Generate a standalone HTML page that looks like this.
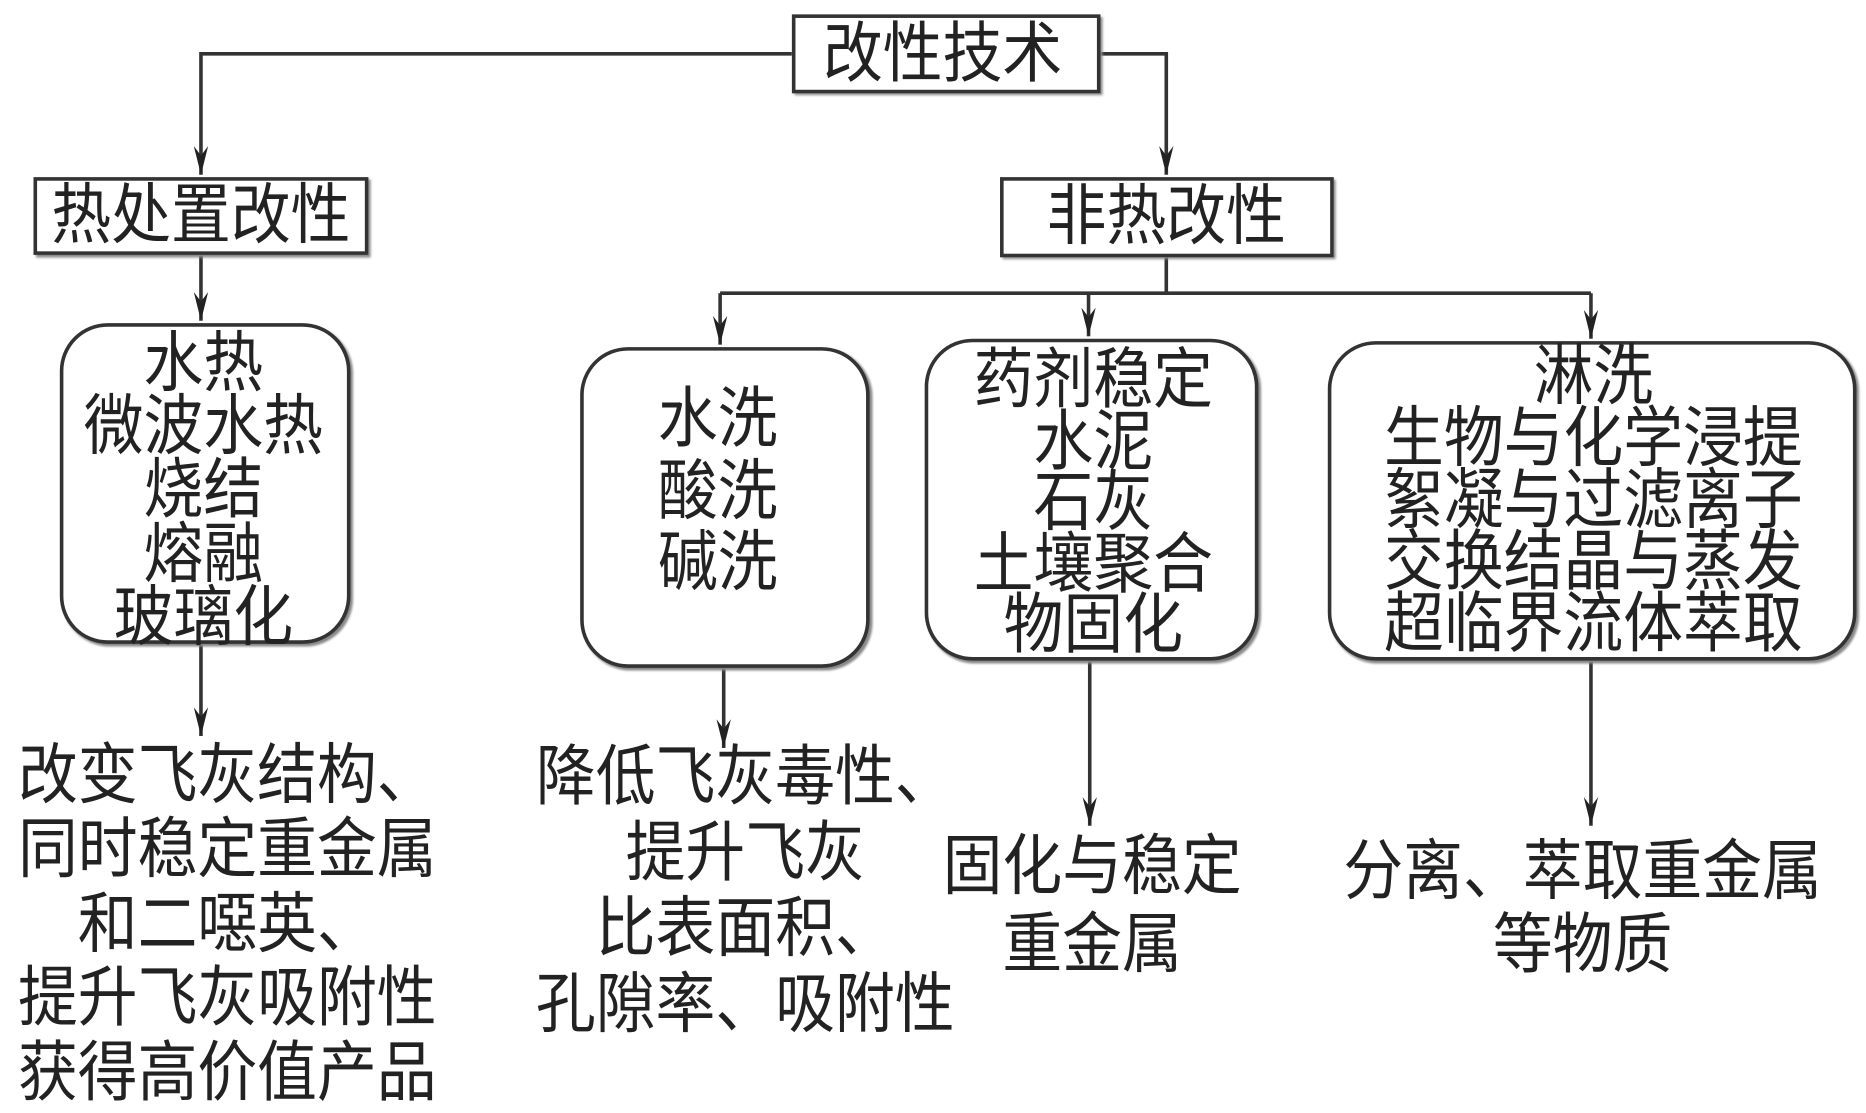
<!DOCTYPE html>
<html><head><meta charset="utf-8"><style>
html,body{margin:0;padding:0;background:#fff;width:1866px;height:1113px;overflow:hidden}
#s{position:absolute;left:0;top:0;width:1560px;height:930px;transform:scale(1.1962,1.1968);transform-origin:0 0;font-family:"Liberation Sans","Noto Sans CJK SC",sans-serif;color:#222}
.t{position:absolute;text-align:center;white-space:nowrap;font-size:50px;line-height:52px;transform:translateX(-50%) scaleY(1.1);transform-origin:50% 0}
.b{position:absolute;border:3px solid #333;box-sizing:border-box;background:#fff;box-shadow:2px 2px 2px #888}
</style></head><body><div id="s">
<svg width="1560" height="930" style="position:absolute;left:0;top:0">
<defs><marker id="a" markerWidth="26" markerHeight="12" refX="24" refY="6" orient="auto" markerUnits="userSpaceOnUse"><path d="M0,0 L24,6 L0,12 L8,6 Z" fill="#222"/></marker></defs>
<g stroke="#333" stroke-width="3" fill="none">
<path d="M662,45 H168 V146" marker-end="url(#a)"/>
<path d="M920,45 H975 V146" marker-end="url(#a)"/>
<path d="M168,213 V268" marker-end="url(#a)"/>
<path d="M975,215 V245"/>
<path d="M602,245 H1330"/>
<path d="M602,245 V288" marker-end="url(#a)"/>
<path d="M910,245 V281" marker-end="url(#a)"/>
<path d="M1330,245 V283" marker-end="url(#a)"/>
<path d="M168,538 V615" marker-end="url(#a)"/>
<path d="M605,558 V625" marker-end="url(#a)"/>
<path d="M911,552 V690" marker-end="url(#a)"/>
<path d="M1330,552 V690" marker-end="url(#a)"/>
</g></svg>
<div class="b" style="left:662px;top:12px;width:258px;height:66px"></div>
<div class="b" style="left:28px;top:148px;width:280px;height:65px"></div>
<div class="b" style="left:836px;top:148px;width:279px;height:67px"></div>
<div class="b" style="left:50px;top:270px;width:243px;height:268px;border-radius:40px"></div>
<div class="b" style="left:485px;top:290px;width:242px;height:268px;border-radius:40px"></div>
<div class="b" style="left:773px;top:283px;width:279px;height:269px;border-radius:40px"></div>
<div class="b" style="left:1110px;top:285px;width:442px;height:267px;border-radius:40px"></div>
<div class="t" style="left:788px;top:16px">改性技术</div>
<div class="t" style="left:168px;top:151px">热处置改性</div>
<div class="t" style="left:975px;top:152px">非热改性</div>
<div class="t" style="left:170px;top:277px;line-height:48.2px">水热<br>微波水热<br>烧结<br>熔融<br>玻璃化</div>
<div class="t" style="left:600px;top:320px;line-height:54.5px">水洗<br>酸洗<br>碱洗</div>
<div class="t" style="left:914px;top:292px;line-height:46.6px">药剂稳定<br>水泥<br>石灰<br>土壤聚合<br>物固化</div>
<div class="t" style="left:1332px;top:289px;line-height:47px">淋洗<br>生物与化学浸提<br>絮凝与过滤离子<br>交换结晶与蒸发<br>超临界流体萃取</div>
<div class="t" style="left:190px;top:617px;line-height:56.4px">改变飞灰结构、<br>同时稳定重金属<br>和二噁英、<br>提升飞灰吸附性<br>获得高价值产品</div>
<div class="t" style="left:623px;top:618px;line-height:57.5px">降低飞灰毒性、<br>提升飞灰<br>比表面积、<br>孔隙率、吸附性</div>
<div class="t" style="left:913px;top:692px;line-height:59px">固化与稳定<br>重金属</div>
<div class="t" style="left:1323px;top:697px;line-height:56.4px">分离、萃取重金属<br>等物质</div>
</div></body></html>
